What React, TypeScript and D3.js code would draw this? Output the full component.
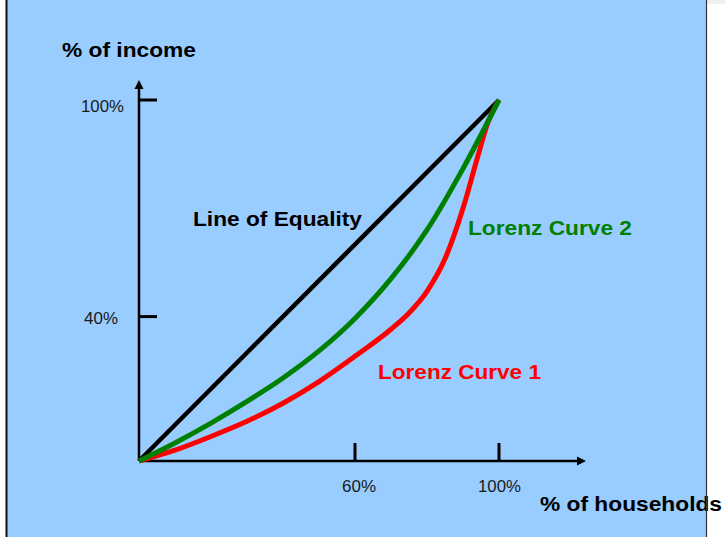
import React from "react";
import * as d3 from "d3";

const W = 725;
const H = 537;

// Data (percent of households -> percent of income)
const equalityX = [0, 100];
const equalityY = [0, 100];
const lorenz2X = [0, 10, 20, 30, 40, 50, 60, 70, 80, 90, 100];
const lorenz2Y = [0, 5, 10.5, 16.5, 23, 30.5, 39.5, 50.5, 64, 81, 100];
const lorenz1X = [0, 10, 20, 30, 40, 50, 60, 70, 75, 80, 85, 90, 94, 97, 100];
const lorenz1Y = [0, 3, 6.8, 11, 16, 22, 29, 36.5, 41, 47, 56, 70, 84, 94, 100];
const xTicks = [60, 100];
const yTicks = [40, 100];
const xTickLabels = ["60%", "100%"];
const yTickLabels = ["40%", "100%"];

const FONT = "'Liberation Sans', Arial, Helvetica, sans-serif";

export default function App() {
  const x = d3.scaleLinear().domain([0, 100]).range([139, 499]);
  const y = d3.scaleLinear().domain([0, 100]).range([461, 100]);

  const mk = (xs: number[], ys: number[]) =>
    d3
      .line<number>()
      .x((_, i) => x(xs[i]))
      .y((_, i) => y(ys[i]))
      .curve(d3.curveMonotoneX)(xs) as string;

  const x0 = x(0);
  const y0 = y(0);

  return (
    <svg
      width={W}
      height={H}
      style={{ position: "absolute", left: 0, top: 0, display: "block" }}
      fontFamily={FONT}
    >
      <rect x={0} y={0} width={W} height={H} fill="#ffffff" />
      <rect x={707} y={0} width={18} height={4} fill="#f0f0f0" />
      <rect x={7} y={0} width={699} height={H} fill="#99CCFF" />

      {/* axes */}
      <line x1={x0} y1={y0} x2={x0} y2={88} stroke="#000" strokeWidth={2.5} />
      <path d={`M${x0 - 4.5},${89} L${x0},${80} L${x0 + 4.5},${89} Z`} fill="#000" />
      <line x1={x0} y1={y0} x2={578} y2={y0} stroke="#000" strokeWidth={2.5} />
      <path d={`M577,${y0 - 4.5} L586,${y0} L577,${y0 + 4.5} Z`} fill="#000" />

      {yTicks.map((t, i) => (
        <g key={"yt" + i}>
          <line x1={x0} x2={x0 + 18} y1={y(t)} y2={y(t)} stroke="#000" strokeWidth={3} />
          <text
            x={i === 1 ? 81 : 84}
            y={y(t) + (i === 1 ? 12 : 7.5)}
            fontSize={16}
            fill="#1a1a1a"
            textLength={i === 1 ? 43 : 34}
            lengthAdjust="spacingAndGlyphs"
          >
            {yTickLabels[i]}
          </text>
        </g>
      ))}
      {xTicks.map((t, i) => (
        <g key={"xt" + i}>
          <line x1={x(t)} x2={x(t)} y1={y0} y2={443} stroke="#000" strokeWidth={3} />
          <text
            x={i === 0 ? 342 : 478}
            y={492}
            fontSize={16}
            fill="#1a1a1a"
            textLength={i === 0 ? 34 : 43}
            lengthAdjust="spacingAndGlyphs"
          >
            {xTickLabels[i]}
          </text>
        </g>
      ))}

      {/* curves */}
      <path d={mk(equalityX, equalityY)} fill="none" stroke="#000" strokeWidth={4.5} />
      <path d={mk(lorenz1X, lorenz1Y)} fill="none" stroke="#FF0000" strokeWidth={5} />
      <path d={mk(lorenz2X, lorenz2Y)} fill="none" stroke="#008000" strokeWidth={5} />

      {/* labels */}
      <text x={62} y={57} fontSize={21} fontWeight="bold" fill="#000" textLength={134} lengthAdjust="spacingAndGlyphs">
        % of income
      </text>
      <text x={540} y={511} fontSize={21} fontWeight="bold" fill="#000" textLength={182} lengthAdjust="spacingAndGlyphs">
        % of households
      </text>
      <text x={193} y={226} fontSize={20} fontWeight="bold" fill="#000" textLength={169} lengthAdjust="spacingAndGlyphs">
        Line of Equality
      </text>
      <text x={468} y={235} fontSize={21} fontWeight="bold" fill="#008000" textLength={164} lengthAdjust="spacingAndGlyphs">
        Lorenz Curve 2
      </text>
      <text x={378} y={379} fontSize={21} fontWeight="bold" fill="#FF0000" textLength={163} lengthAdjust="spacingAndGlyphs">
        Lorenz Curve 1
      </text>

      {/* frame borders */}
      <line x1={6.5} y1={0} x2={6.5} y2={H} stroke="#111" strokeWidth={2} />
      <line x1={706.5} y1={0} x2={706.5} y2={H} stroke="#333" strokeWidth={1.2} />
    </svg>
  );
}
